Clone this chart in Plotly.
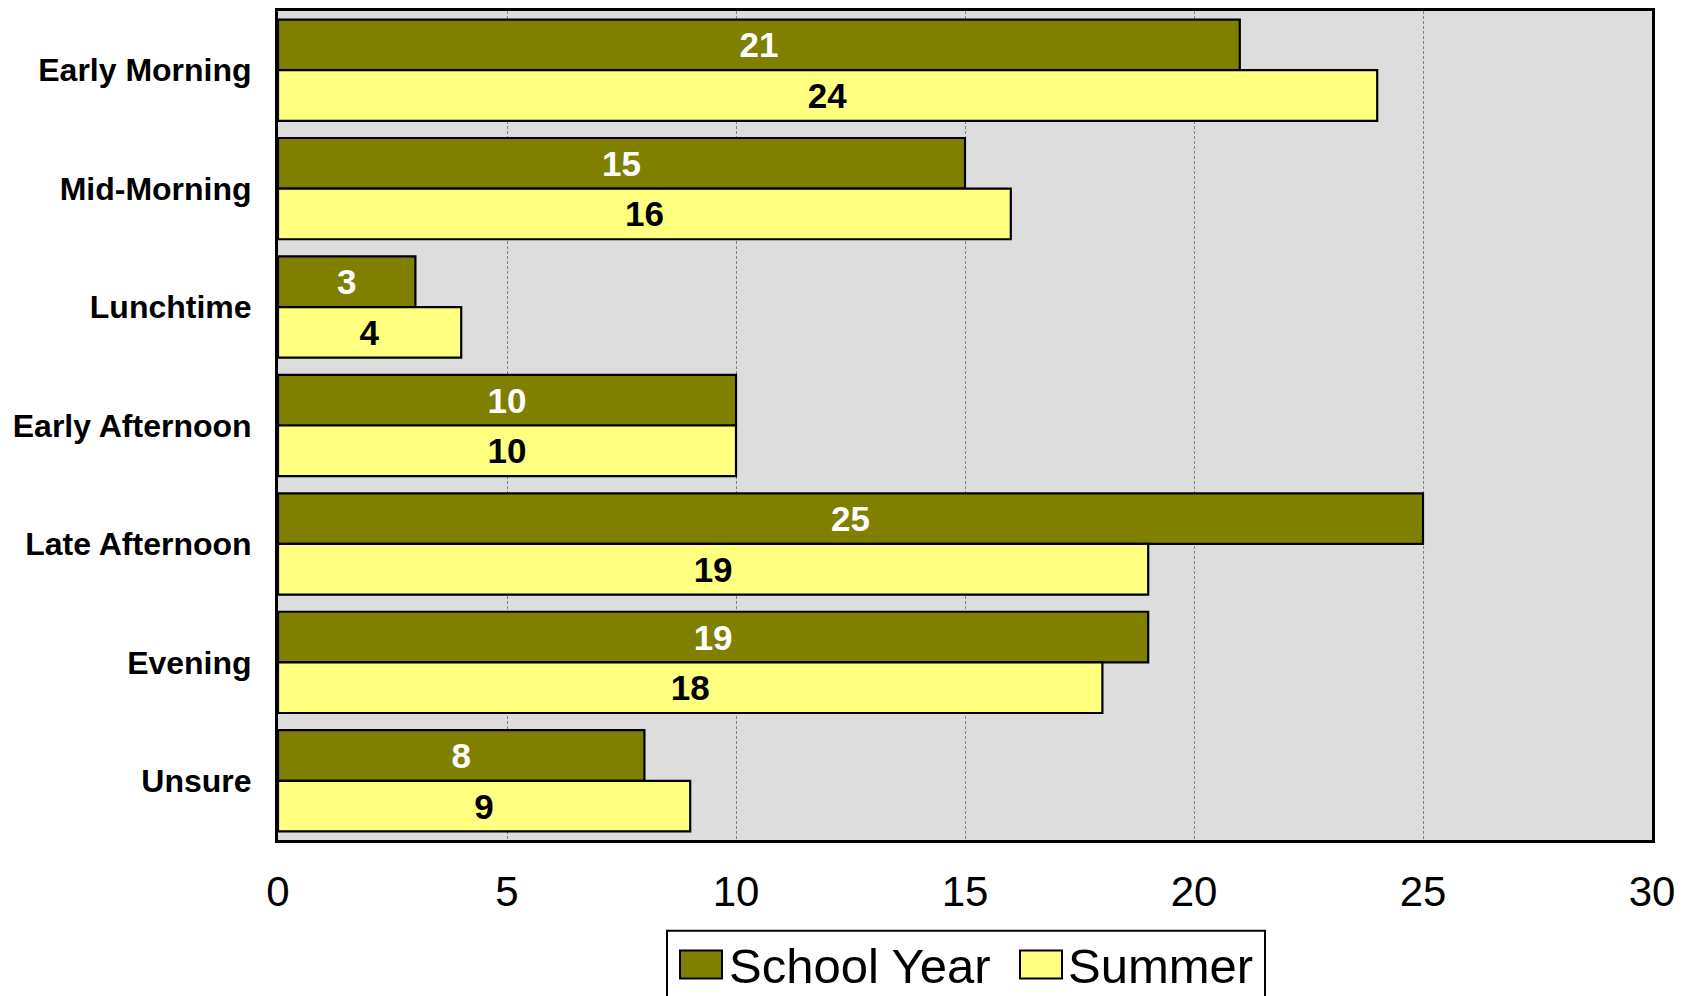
import plotly.graph_objects as go

categories = ["Early Morning", "Mid-Morning", "Lunchtime", "Early Afternoon",
              "Late Afternoon", "Evening", "Unsure"]
series_names = ["School Year", "Summer"]
school_year = [21, 15, 3, 10, 25, 19, 8]
summer = [24, 16, 4, 10, 19, 18, 9]
x_ticks = [0, 5, 10, 15, 20, 25, 30]

colors = ["#808000", "#FFFF80"]
text_colors = ["white", "black"]
FONT = "Liberation Sans, Arial, sans-serif"

W, H = 1692, 996
OFF = 8  # page body offset
L, R, T, B = 270, 48, 0, 164
PW, PH = W - L - R, H - T - B


def px(x):
    # screen x -> paper
    return (x - OFF - L) / PW


def py(y):
    # screen y -> paper
    return (H - B - (y - OFF)) / PH


fig = go.Figure()
for name, vals, col, tcol in zip(series_names, [school_year, summer], colors, text_colors):
    fig.add_trace(go.Bar(
        y=categories, x=vals, name=name, orientation="h",
        marker=dict(color=col, line=dict(color="black", width=2.2)),
        text=[str(v) for v in vals], textposition="inside",
        insidetextanchor="middle", textangle=0, constraintext="none",
        textfont=dict(family=FONT, size=35, color=tcol, weight="bold"),
        showlegend=False, cliponaxis=False,
    ))

fig.update_layout(
    width=W, height=H,
    margin=dict(l=L, r=R, t=T, b=B, pad=0),
    paper_bgcolor="white", plot_bgcolor="#DDDDDD",
    barmode="group", bargap=0.145, bargroupgap=0,
    font=dict(family=FONT, color="black"),
)
fig.update_xaxes(
    range=[0, 30], tickvals=x_ticks, ticktext=[str(t) for t in x_ticks],
    showgrid=True, gridcolor="#808080", gridwidth=1, griddash="3px,2px",
    zeroline=False, showline=True, linecolor="black", linewidth=3, mirror=True,
    ticks="", tickfont=dict(family=FONT, size=42, color="black"),
    ticklabelstandoff=13,
)
fig.update_yaxes(
    categoryorder="array", categoryarray=categories, autorange="reversed",
    showgrid=False, zeroline=False, showline=True, linecolor="black",
    linewidth=3, mirror=True, ticks="",
    tickfont=dict(family=FONT, size=32, color="black", weight="bold"),
    ticklabelstandoff=17,
)

# Legend drawn manually (large swatches like the original)
shapes = [dict(type="rect", xref="paper", yref="paper",
               x0=px(667), x1=px(1265), y0=py(931), y1=py(1010),
               line=dict(color="black", width=2), fillcolor="white", layer="above")]
sw_x = [680, 1020]
txt_x = [727, 1066]
annotations = []
for name, col, sx, tx in zip(series_names, colors, sw_x, txt_x):
    shapes.append(dict(type="rect", xref="paper", yref="paper",
                       x0=px(sx), x1=px(sx + 42), y0=py(951), y1=py(979),
                       line=dict(color="black", width=2), fillcolor=col, layer="above"))
    annotations.append(dict(text=name, xref="paper", yref="paper",
                            x=px(tx), y=py(966), xanchor="left", yanchor="middle",
                            showarrow=False,
                            font=dict(family=FONT, size=49, color="black")))
fig.update_layout(shapes=shapes, annotations=annotations)

fig.write_html("out.html")
